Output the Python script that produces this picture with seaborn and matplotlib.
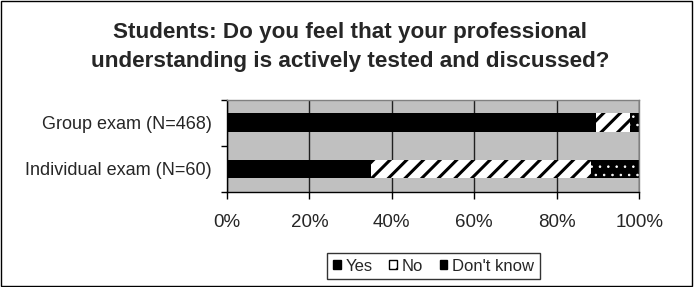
import matplotlib
matplotlib.use("Agg")
import matplotlib.pyplot as plt
import matplotlib.patches as mpatches
import seaborn as sns
import numpy as np
import pandas as pd

# data (share of answers, %)
groups = ['Group exam (N=468)', 'Individual exam (N=60)']
yes = [89.5, 35.0]
no = [8.3, 53.3]
dont_know = [2.2, 11.7]
series = ['Yes', 'No', "Don't know"]

sns.set_theme(style="white")
plt.rcParams['font.family'] = ['Liberation Sans', 'DejaVu Sans']
plt.rcParams['hatch.linewidth'] = 2.2

df = pd.DataFrame({'group': groups, 'Yes': yes, 'No': no, "Don't know": dont_know})
df['cum_yes'] = df['Yes']
df['cum_no'] = df['Yes'] + df['No']
df['cum_dk'] = df['cum_no'] + df["Don't know"]

fig = plt.figure(figsize=(6.94, 2.87), dpi=100)
ax = fig.add_axes([0.327, 0.331, 0.594, 0.321])
ax.set_facecolor('#C0C0C0')

# stacked by drawing cumulative bars back to front
sns.barplot(data=df, x='cum_dk', y='group', order=groups, color='black', width=0.41,
            ax=ax, orient='h', saturation=1, linewidth=0)
n1 = len(ax.patches)
sns.barplot(data=df, x='cum_no', y='group', order=groups, color='white', width=0.41,
            ax=ax, orient='h', saturation=1, linewidth=0)
n2 = len(ax.patches)
sns.barplot(data=df, x='cum_yes', y='group', order=groups, color='black', width=0.41,
            ax=ax, orient='h', saturation=1, linewidth=0)

for p in ax.patches[:n1]:
    p.set_hatch('..')
    p.set_edgecolor('white')
    p.set_linewidth(0)
    if hasattr(p, 'set_hatch_linewidth'):
        p.set_hatch_linewidth(0.6)
for p in ax.patches[n1:n2]:
    p.set_hatch('//')
    p.set_edgecolor('black')
    p.set_linewidth(0)

ax.set_xlim(0, 100)
ax.set_ylim(1.5, -0.5)
ax.set_xticks(np.arange(0, 101, 20))
ax.set_xticklabels([f'{v}%' for v in range(0, 101, 20)], fontsize=13.5)
ax.set_yticklabels(groups, fontsize=13)
ax.tick_params(axis='y', which='major', length=0, pad=11)
ax.set_yticks([-0.5, 0.5, 1.5], minor=True)
ax.tick_params(axis='y', which='minor', length=4, color='black', width=1, left=True)
ax.tick_params(axis='x', length=5, color='black', width=1, bottom=True, pad=11)
ax.set_xlabel('')
ax.set_ylabel('')
ax.xaxis.grid(True, color='#202020', linewidth=1)
ax.set_axisbelow(True)
for s in ['left', 'bottom']:
    ax.spines[s].set_color('black')
    ax.spines[s].set_linewidth(1)
for s in ['top', 'right']:
    ax.spines[s].set_color('#808080')
    ax.spines[s].set_linewidth(1)

fig.text(0.505, 0.835, 'Students: Do you feel that your professional\nunderstanding is actively tested and discussed?',
         ha='center', va='center', fontsize=16.2, fontweight='bold', linespacing=1.5)

handles = [mpatches.Patch(facecolor='black', edgecolor='black', label='Yes'),
           mpatches.Patch(facecolor='white', edgecolor='black', hatch='/', label='No'),
           mpatches.Patch(facecolor='black', edgecolor='black', label="Don't know")]
leg = fig.legend(handles=handles, loc='center', bbox_to_anchor=(0.625, 0.073), ncol=3,
                 fontsize=12, frameon=True, fancybox=False, handlelength=0.45, handleheight=0.45,
                 handletextpad=0.3, columnspacing=1.0, borderpad=0.35, borderaxespad=0)
leg.get_frame().set_edgecolor('black')
leg.get_frame().set_linewidth(1)

fig.patches.append(mpatches.Rectangle((0.002, 0.004), 0.995, 0.992, transform=fig.transFigure,
                                      fill=False, edgecolor='black', linewidth=1))

fig.savefig('out.png', dpi=100)
